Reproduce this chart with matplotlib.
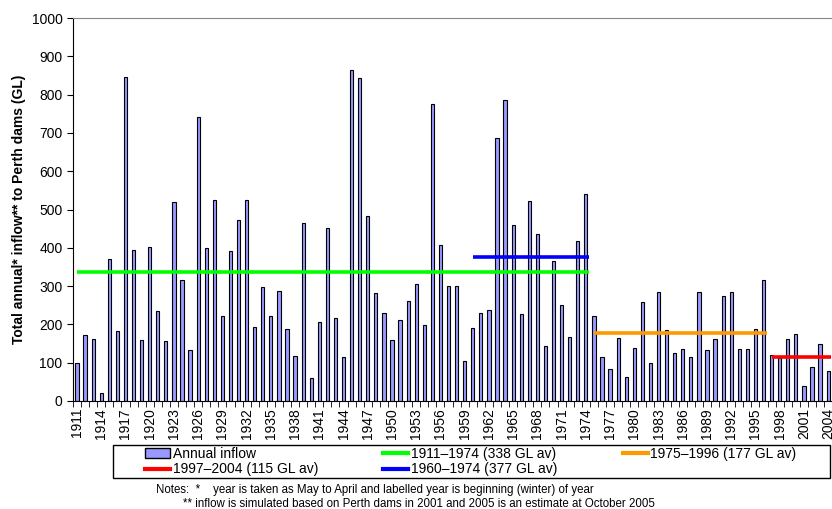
import numpy as np
import matplotlib.pyplot as plt
from matplotlib.lines import Line2D
from matplotlib.patches import Patch, Rectangle

plt.rcParams['font.family'] = ['Liberation Sans', 'DejaVu Sans']

years = list(range(1911, 2005))
inflow = [98, 172, 162, 20, 372, 182, 846, 393, 160, 402,
          235, 156, 519, 315, 132, 741, 399, 525, 221, 391,
          472, 526, 194, 298, 223, 288, 188, 117, 466, 59,
          207, 452, 218, 115, 863, 844, 484, 281, 230, 160,
          211, 261, 305, 198, 776, 407, 300, 300, 104, 190,
          230, 237, 686, 785, 460, 226, 522, 437, 144, 365,
          250, 166, 419, 540, 222, 116, 84, 165, 63, 138,
          258, 98, 284, 185, 126, 136, 114, 285, 132, 163,
          275, 284, 136, 136, 187, 316, 121, 113, 161, 176,
          40, 89, 148, 78]

# period averages: (label, start, end, value, colour)
periods = [
    ('1911\u20131974 (338 GL av)', 1911, 1974, 338, '#00ff00'),
    ('1960\u20131974 (377 GL av)', 1960, 1974, 377, '#0000ff'),
    ('1975\u20131996 (177 GL av)', 1975, 1996, 177, '#ff9900'),
    ('1997\u20132004 (115 GL av)', 1997, 2004, 115, '#ff0000'),
]

W, H = 832, 509
fig = plt.figure(figsize=(W / 100, H / 100), dpi=100)
ax = fig.add_axes([0.0877, 0.2122, 0.913, 0.7524])

ax.bar(years, inflow, width=0.4, color='#9999ff', edgecolor='black', linewidth=0.8, zorder=2)
for lab, y0, y1, v, c in periods:
    ax.plot([y0, y1 + 0.4], [v, v], color=c, lw=2.6, solid_capstyle='butt', zorder=3)

ax.set_xlim(1910.5, 2004.55)
ax.set_ylim(0, 1000)
ax.set_yticks(np.arange(0, 1001, 100))
ax.tick_params(axis='y', labelsize=10, length=4, direction='out')

ax.set_xticks(years[::3])
ax.set_xticklabels([str(y) for y in years[::3]], rotation=90)
ax.set_xticks(np.arange(1910.5, 2005, 1), minor=True)
ax.tick_params(axis='x', which='major', length=0, labelsize=10, pad=5)
ax.tick_params(axis='x', which='minor', length=4, direction='out')

ax.spines['right'].set_visible(False)
ax.spines['top'].set_color('#888888')
for s in ['left', 'bottom']:
    ax.spines[s].set_color('black')

ax.set_ylabel('Total annual* inflow** to Perth dams (GL)', fontsize=10, fontweight='bold', labelpad=4)

# legend box drawn separately so entries can sit inside with Excel-like margins
fig.patches.append(Rectangle((113 / W, 1 - 478 / H), (830 - 113) / W, 33 / H,
                             transform=fig.transFigure, fill=False, edgecolor='black', lw=1.0))
handles = [Patch(facecolor='#9999ff', edgecolor='black', label='Annual inflow'),
           Line2D([], [], color=periods[3][4], lw=3, label=periods[3][0]),
           Line2D([], [], color=periods[0][4], lw=3, label=periods[0][0]),
           Line2D([], [], color=periods[1][4], lw=3, label=periods[1][0]),
           Line2D([], [], color=periods[2][4], lw=3, label=periods[2][0])]
fig.legend(handles=handles, ncol=3, loc='upper left', bbox_to_anchor=(142 / W, 1 - 444 / H),
           frameon=False, fontsize=10, handlelength=1.8, handletextpad=0.2,
           borderpad=0.2, labelspacing=0.12, columnspacing=4.7, borderaxespad=0)

fig.text(156 / W, 1 - 490 / H, 'Notes:  *    year is taken as May to April and labelled year is beginning (winter) of year',
         fontsize=8.3, va='center')
fig.text(183 / W, 1 - 504 / H, '** inflow is simulated based on Perth dams in 2001 and 2005 is an estimate at October 2005',
         fontsize=8.3, va='center')

fig.savefig('out.png', dpi=100)
